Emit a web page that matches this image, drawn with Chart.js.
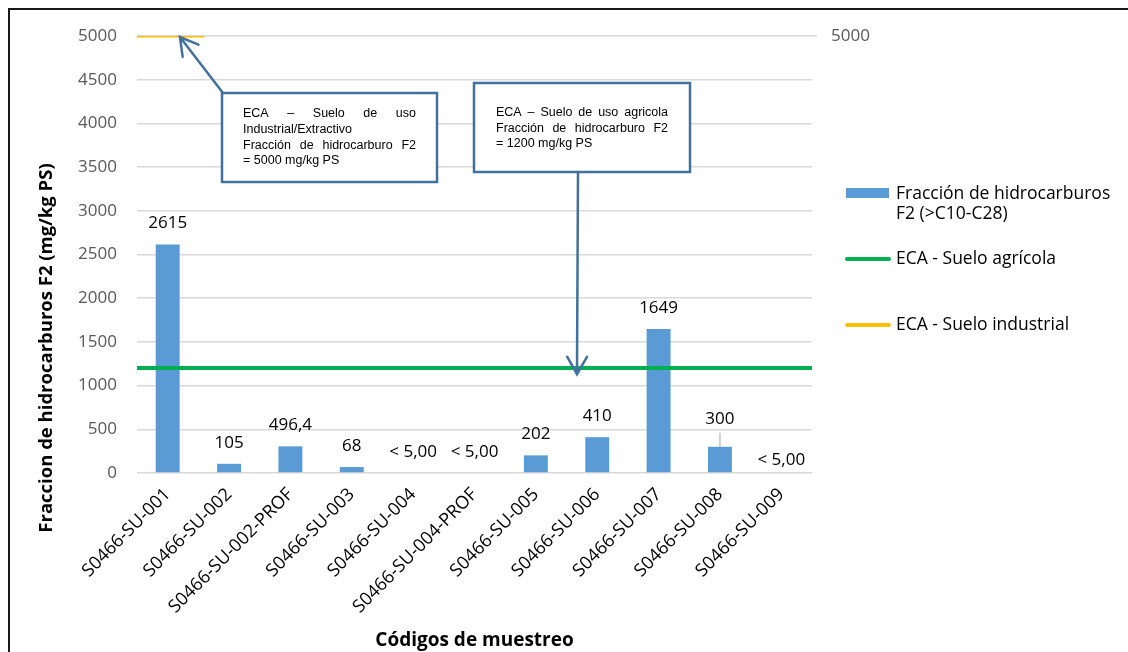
<!DOCTYPE html>
<html lang="es">
<head>
<meta charset="UTF-8">
<title>Fracción de hidrocarburos F2</title>
<script src="https://cdn.jsdelivr.net/npm/chart.js@4"></script>
<style>
  body { margin: 0; background: #fff; }
  #marco { position: relative; width: 1128px; height: 652px; overflow: hidden; }
</style>
</head>
<body>
<div id="marco"><canvas id="grafico"></canvas></div>
<script>
// datos
const codigos = ['S0466-SU-001', 'S0466-SU-002', 'S0466-SU-002-PROF', 'S0466-SU-003', 'S0466-SU-004',
  'S0466-SU-004-PROF', 'S0466-SU-005', 'S0466-SU-006', 'S0466-SU-007', 'S0466-SU-008', 'S0466-SU-009'];
const valoresF2 = [2615, 105, 305, 68, 0, 0, 202, 410, 1649, 300, 0];
const etiquetasF2 = ['2615', '105', '496,4', '68', '< 5,00', '< 5,00', '202', '410', '1649', '300', '< 5,00'];
const ecaAgricola = 1200;
const ecaIndustrial = 5000;
const tramoAgricola = [-0.5, 10.5];
const tramoIndustrial = [-0.5, 0.6];

const azul = '#5B9BD5', verde = '#00B050', naranja = '#FFC000', flecha = '#41719C';
const fuente = "'Open Sans', sans-serif";

function flechaAbierta(ctx, x1, y1, x2, y2) {
  const ang = Math.atan2(y1 - y2, x1 - x2);
  ctx.beginPath();
  ctx.moveTo(x1, y1); ctx.lineTo(x2, y2);
  ctx.moveTo(x2 + 20 * Math.cos(ang - 0.52), y2 + 20 * Math.sin(ang - 0.52));
  ctx.lineTo(x2, y2);
  ctx.lineTo(x2 + 20 * Math.cos(ang + 0.52), y2 + 20 * Math.sin(ang + 0.52));
  ctx.stroke();
}

function lineaJustificada(ctx, texto, x, y, ancho, justificar) {
  if (!justificar) { ctx.fillText(texto, x, y); return; }
  const palabras = texto.split(' ');
  const total = palabras.reduce((s, p) => s + ctx.measureText(p).width, 0);
  const hueco = (ancho - total) / (palabras.length - 1);
  let cx = x;
  palabras.forEach(p => { ctx.fillText(p, cx, y); cx += ctx.measureText(p).width + hueco; });
}

function cuadro(ctx, r, lineas) {
  ctx.fillStyle = '#fff';
  ctx.fillRect(r.x, r.y, r.w, r.h);
  ctx.strokeStyle = flecha; ctx.lineWidth = 2.5;
  ctx.strokeRect(r.x, r.y, r.w, r.h);
  ctx.fillStyle = '#000';
  ctx.font = "12.5px 'Liberation Sans', Arial, sans-serif";
  ctx.textAlign = 'left'; ctx.textBaseline = 'middle';
  lineas.forEach(l => lineaJustificada(ctx, l[0], r.tx, l[1], r.tw, l[2]));
}

const extras = {
  id: 'extras',
  afterDatasetsDraw(chart) {
    const ctx = chart.ctx;
    const ys = chart.scales.y, xs2 = chart.scales.x2;
    ctx.save();

    // etiquetas de datos
    const meta = chart.getDatasetMeta(2);
    ctx.font = '17px ' + fuente;
    ctx.fillStyle = '#000';
    ctx.textAlign = 'center'; ctx.textBaseline = 'middle';
    meta.data.forEach((bar, i) => {
      let dy = 21;
      if (i === 9) dy = 28;
      if (i === 10) dy = 13;
      ctx.fillText(etiquetasF2[i], bar.x, bar.y - dy);
      if (i === 9) {
        ctx.strokeStyle = '#A6A6A6'; ctx.lineWidth = 1;
        ctx.beginPath(); ctx.moveTo(bar.x, bar.y - dy + 14); ctx.lineTo(bar.x, bar.y); ctx.stroke();
      }
    });

    // cuadros de texto y flechas
    cuadro(ctx, {x: 222, y: 93, w: 215, h: 89, tx: 243, tw: 173}, [
      ['ECA – Suelo de uso', 114, true],
      ['Industrial/Extractivo', 130, false],
      ['Fracción de hidrocarburo F2', 145.5, true],
      ['= 5000 mg/kg PS', 160.5, false]
    ]);
    cuadro(ctx, {x: 474, y: 83, w: 216, h: 89, tx: 496, tw: 172}, [
      ['ECA – Suelo de uso agricola', 112.7, true],
      ['Fracción de hidrocarburo F2', 128.3, true],
      ['= 1200 mg/kg PS', 143.3, false]
    ]);
    ctx.strokeStyle = flecha; ctx.lineWidth = 2.5; ctx.lineCap = 'round';
    flechaAbierta(ctx, 223, 93, xs2.getPixelForValue(0.2), ys.getPixelForValue(ecaIndustrial) + 1);
    flechaAbierta(ctx, 578, 172, xs2.getPixelForValue(6.67), ys.getPixelForValue(ecaAgricola) + 6);
    ctx.restore();
  },
  afterDraw(chart) {
    const ctx = chart.ctx;
    ctx.save();
    // marco
    ctx.strokeStyle = '#1a1a1a'; ctx.lineWidth = 2;
    ctx.strokeRect(9, 9, 1300, 1000);

    // titulo eje Y
    ctx.translate(47, 348);
    ctx.rotate(-Math.PI / 2);
    ctx.font = 'bold 18.5px ' + fuente;
    ctx.fillStyle = '#000';
    ctx.textAlign = 'center'; ctx.textBaseline = 'middle';
    ctx.fillText('Fraccion de hidrocarburos F2 (mg/kg PS)', 0, 0);
    ctx.setTransform(1, 0, 0, 1, 0, 0);

    // leyenda
    ctx.font = '17.5px ' + fuente;
    ctx.textAlign = 'left';
    ctx.fillStyle = azul;
    ctx.fillRect(846, 188, 43, 10);
    ctx.fillStyle = '#000';
    ctx.fillText('Fracción de hidrocarburos', 896, 194);
    ctx.fillText('F2 (>C10-C28)', 896, 214);
    ctx.lineWidth = 4; ctx.lineCap = 'round';
    ctx.strokeStyle = verde;
    ctx.beginPath(); ctx.moveTo(847, 259); ctx.lineTo(889, 259); ctx.stroke();
    ctx.fillText('ECA - Suelo agrícola', 896, 259);
    ctx.strokeStyle = naranja;
    ctx.beginPath(); ctx.moveTo(847, 325); ctx.lineTo(889, 325); ctx.stroke();
    ctx.fillText('ECA - Suelo industrial', 896, 325);
    ctx.restore();
  }
};

new Chart(document.getElementById('grafico'), {
  data: {
    labels: codigos,
    datasets: [
      {
        type: 'line', label: 'ECA - Suelo agrícola', xAxisID: 'x2', order: 1,
        data: tramoAgricola.map(x => ({x: x, y: ecaAgricola})),
        borderColor: verde, borderWidth: 4, pointRadius: 0, fill: false
      },
      {
        type: 'line', label: 'ECA - Suelo industrial', xAxisID: 'x2', order: 2,
        data: tramoIndustrial.map(x => ({x: x, y: ecaIndustrial})),
        borderColor: naranja, borderWidth: 3, pointRadius: 0, fill: false
      },
      {
        type: 'bar', label: 'Fracción de hidrocarburos F2 (>C10-C28)', order: 3,
        data: valoresF2, backgroundColor: azul,
        barPercentage: 0.39, categoryPercentage: 1, grouped: false
      }
    ]
  },
  options: {
    responsive: true,
    maintainAspectRatio: false,
    animation: false,
    layout: { padding: { top: 36, left: 0, right: 0, bottom: 0 } },
    plugins: { legend: { display: false }, tooltip: { enabled: false } },
    scales: {
      x: {
        type: 'category',
        grid: { display: false, drawTicks: false },
        border: { display: false },
        ticks: { color: '#000', font: { family: fuente, size: 18 }, minRotation: 45, maxRotation: 45, autoSkip: false, padding: 11 },
        title: { display: true, text: 'Códigos de muestreo', color: '#000', font: { family: fuente, size: 19, weight: 'bold' }, padding: { top: 0, bottom: 0 } },
        afterFit: s => { s.height = 179; }
      },
      x2: { type: 'linear', display: false, min: -0.5, max: 10.5 },
      y: {
        min: 0, max: 5000,
        grid: { color: '#D9D9D9', lineWidth: 1.5, drawTicks: false },
        border: { display: false },
        ticks: { stepSize: 500, color: '#595959', font: { family: fuente, size: 17 }, padding: 20, callback: v => String(v) },
        afterFit: s => { s.width = 137; }
      },
      y2: {
        position: 'right', min: 0, max: 5000,
        grid: { drawOnChartArea: false, color: '#D9D9D9', lineWidth: 1.5, tickLength: 5 },
        border: { display: false },
        ticks: { color: '#595959', font: { family: fuente, size: 17 }, padding: 14, callback: v => String(v) },
        afterBuildTicks: s => { s.ticks = [{ value: 5000 }]; },
        afterFit: s => { s.width = 316; }
      }
    }
  },
  plugins: [extras]
});
</script>
</body>
</html>
